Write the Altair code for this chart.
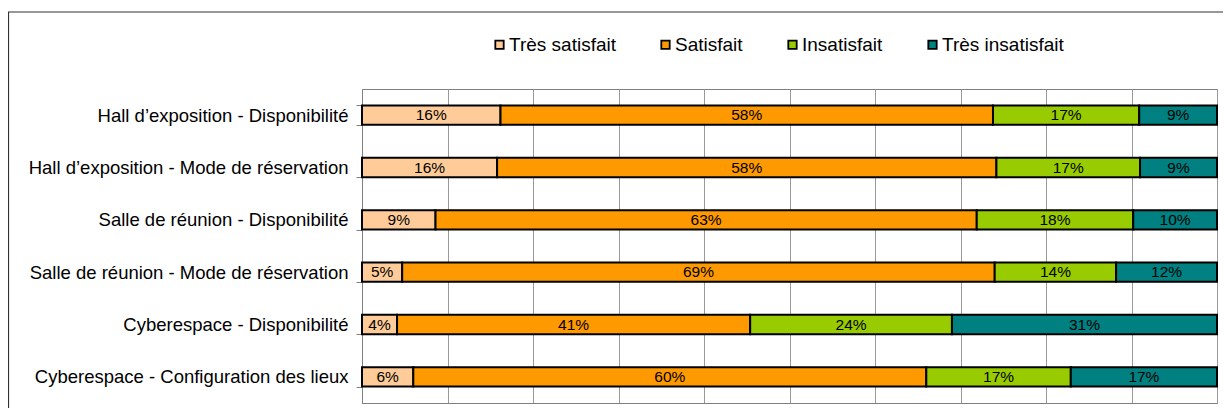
import altair as alt
import pandas as pd

categories = [
    "Hall d’exposition - Disponibilité",
    "Hall d’exposition - Mode de réservation",
    "Salle de réunion - Disponibilité",
    "Salle de réunion - Mode de réservation",
    "Cyberespace - Disponibilité",
    "Cyberespace - Configuration des lieux",
]
levels = ["Très satisfait", "Satisfait", "Insatisfait", "Très insatisfait"]
colors = ["#FFCC99", "#FF9900", "#99CC00", "#008080"]

tres_satisfait = [16.2, 15.8, 8.6, 4.7, 4.1, 6.0]
satisfait = [57.6, 58.4, 63.3, 69.3, 41.3, 60.0]
insatisfait = [17.1, 16.8, 18.3, 14.2, 23.6, 16.9]
tres_insatisfait = [9.1, 9.0, 9.8, 11.8, 31.0, 17.1]
series = [tres_satisfait, satisfait, insatisfait, tres_insatisfait]

rows = []
for i, c in enumerate(categories):
    for j, lvl in enumerate(levels):
        rows.append({"category": c, "level": lvl, "order": j, "value": series[j][i]})
df = pd.DataFrame(rows)

base = alt.Chart(df).transform_stack(
    stack="value", groupby=["category"], as_=["x0", "x1"],
    sort=[alt.SortField("order", order="ascending")]
).transform_calculate(
    mid="(datum.x0 + datum.x1) / 2",
    label="round(datum.value) + '%'"
)

y_enc = alt.Y(
    "category:N", sort=categories, title=None,
    scale=alt.Scale(paddingInner=0.63, paddingOuter=0.315),
    axis=alt.Axis(labelFontSize=18.5, labelColor="black", labelLimit=400,
                  tickBand="extent", tickSize=6, tickColor="#808080",
                  domainColor="#808080", labelPadding=8, grid=False),
)

x_scale = alt.Scale(domain=[0, 100], nice=False)

bars = base.mark_bar(stroke="black", strokeWidth=2).encode(
    x=alt.X("x0:Q", scale=x_scale, title=None,
            axis=alt.Axis(values=list(range(0, 101, 10)), labels=False, ticks=False,
                          grid=True, gridColor="#999999", domainColor="#808080")),
    x2="x1:Q",
    y=y_enc,
    color=alt.Color("level:N", sort=levels,
                    scale=alt.Scale(domain=levels, range=colors),
                    legend=alt.Legend(title=None, orient="none", legendX=128, legendY=-54,
                                      direction="horizontal", symbolType="square",
                                      symbolSize=70, symbolStrokeColor="black",
                                      symbolStrokeWidth=1.8, symbolOpacity=1,
                                      labelFontSize=19, labelOffset=0, columnPadding=40,
                                      labelColor="black", labelLimit=300)),
)

text = base.mark_text(fontSize=15.5, color="black", baseline="middle").encode(
    x=alt.X("mid:Q", scale=x_scale),
    y=y_enc,
    text="label:N",
)

frame_df = pd.DataFrame({"k": [0]})
left_border = alt.Chart(frame_df).mark_rule(color="#333333", strokeWidth=1.2).encode(
    x=alt.value(-353.5), y=alt.value(-77), y2=alt.value(330)
)
top_border = alt.Chart(frame_df).mark_rule(color="#333333", strokeWidth=1.2).encode(
    x=alt.value(-354), x2=alt.value(861), y=alt.value(-77)
)

chart = alt.layer(bars, text, left_border, top_border).properties(
    width=855, height=314,
    padding={"left": 354, "top": 81, "right": 6, "bottom": 5},
    autosize="none",
).configure(font="Liberation Sans").configure_view(stroke="#808080")

chart.save("out.html", embed_options={"renderer": "svg", "actions": False})
